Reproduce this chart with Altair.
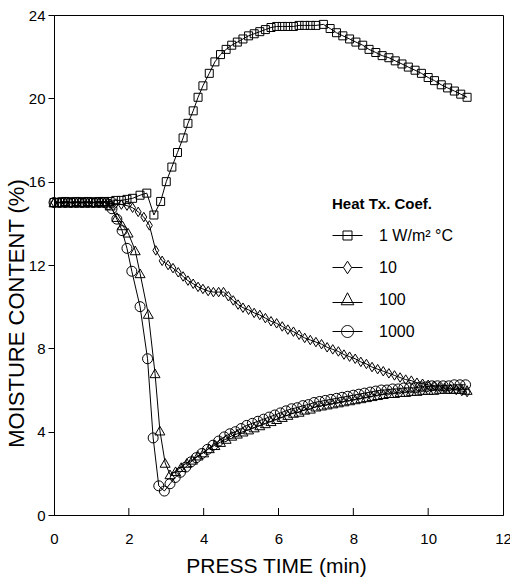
import altair as alt
import pandas as pd

series_names = ["1 W/m² °C", "10", "100", "1000"]

square = [(0, 15.0), (0.15, 15.0), (0.3, 15.05), (0.45, 15.0), (0.6, 15.05), (0.75, 15.0), (0.9, 15.05),
          (1.05, 15.0), (1.2, 15.05), (1.35, 15.05), (1.5, 15.05), (1.65, 15.1), (1.8, 15.1), (1.95, 15.15),
          (2.1, 15.2), (2.3, 15.35), (2.48, 15.45), (2.67, 14.4), (2.85, 15.05), (3.0, 16.0), (3.15, 16.7),
          (3.3, 17.4), (3.45, 18.1), (3.58, 18.8), (3.72, 19.4), (3.85, 20.05), (3.98, 20.6), (4.15, 21.2),
          (4.3, 21.75), (4.45, 22.1), (4.6, 22.35), (4.75, 22.55), (4.9, 22.7), (5.05, 22.85), (5.2, 23.0),
          (5.35, 23.1), (5.5, 23.2), (5.65, 23.3), (5.8, 23.4), (5.95, 23.45), (6.1, 23.45), (6.25, 23.45),
          (6.4, 23.45), (6.55, 23.5), (6.7, 23.5), (6.85, 23.5), (7.0, 23.5), (7.2, 23.55), (7.38, 23.35),
          (7.55, 23.15), (7.72, 23.0), (7.9, 22.85), (8.07, 22.7), (8.25, 22.55), (8.42, 22.35), (8.6, 22.2),
          (8.77, 22.05), (8.95, 21.95), (9.12, 21.8), (9.3, 21.65), (9.47, 21.5), (9.65, 21.35), (9.82, 21.2),
          (10.0, 21.0), (10.17, 20.85), (10.35, 20.65), (10.52, 20.5), (10.7, 20.35), (10.87, 20.2), (11.04, 20.05)]

diamond = [(0, 15.0), (0.15, 15.0), (0.3, 15.0), (0.45, 15.0), (0.6, 15.0), (0.75, 15.0), (0.9, 15.0),
           (1.05, 15.0), (1.2, 15.0), (1.35, 15.0), (1.5, 14.95), (1.65, 14.95), (1.8, 14.9), (1.95, 14.85),
           (2.1, 14.75), (2.25, 14.55), (2.4, 14.3), (2.55, 13.9), (2.72, 12.7), (2.89, 12.2), (3.05, 12.0),
           (3.18, 11.85), (3.32, 11.65), (3.45, 11.45), (3.58, 11.25), (3.72, 11.1), (3.85, 10.95), (3.98, 10.85),
           (4.12, 10.75), (4.26, 10.7), (4.4, 10.7), (4.53, 10.7), (4.66, 10.5), (4.79, 10.3), (4.92, 10.1),
           (5.05, 9.95), (5.2, 9.85), (5.35, 9.7), (5.5, 9.6), (5.65, 9.45), (5.8, 9.3), (5.95, 9.2), (6.1, 9.05),
           (6.25, 8.9), (6.4, 8.8), (6.55, 8.65), (6.7, 8.5), (6.85, 8.4), (7.0, 8.3), (7.15, 8.2), (7.3, 8.05),
           (7.45, 7.95), (7.6, 7.85), (7.75, 7.7), (7.9, 7.6), (8.05, 7.5), (8.2, 7.35), (8.35, 7.25), (8.5, 7.1),
           (8.65, 7.0), (8.8, 6.9), (8.95, 6.8), (9.1, 6.7), (9.25, 6.6), (9.4, 6.5), (9.55, 6.45), (9.7, 6.35),
           (9.85, 6.3), (10.0, 6.25), (10.15, 6.2), (10.3, 6.15), (10.45, 6.1), (10.6, 6.05), (10.75, 6.0),
           (10.9, 5.95), (11.04, 5.9)]

triangle = [(0, 15.0), (0.15, 15.0), (0.3, 15.0), (0.45, 15.0), (0.6, 15.0), (0.75, 15.0), (0.9, 15.0),
            (1.05, 15.0), (1.2, 15.0), (1.35, 15.0), (1.5, 14.85), (1.68, 14.3), (1.83, 13.9), (1.98, 13.55),
            (2.17, 12.7), (2.3, 11.6), (2.52, 9.65), (2.7, 6.8), (2.83, 4.05), (2.97, 2.5), (3.1, 1.95),
            (3.25, 2.1), (3.4, 2.3), (3.55, 2.5), (3.7, 2.65), (3.85, 2.85), (4.0, 3.0), (4.15, 3.2), (4.3, 3.35),
            (4.45, 3.5), (4.6, 3.65), (4.75, 3.8), (4.9, 3.9), (5.05, 4.0), (5.2, 4.1), (5.35, 4.2), (5.5, 4.3),
            (5.65, 4.4), (5.8, 4.5), (5.95, 4.6), (6.1, 4.7), (6.25, 4.8), (6.4, 4.9), (6.55, 4.95), (6.7, 5.05),
            (6.85, 5.1), (7.0, 5.2), (7.15, 5.25), (7.3, 5.3), (7.45, 5.35), (7.6, 5.4), (7.75, 5.45), (7.9, 5.5),
            (8.05, 5.55), (8.2, 5.6), (8.35, 5.65), (8.5, 5.7), (8.65, 5.75), (8.8, 5.8), (8.95, 5.85), (9.1, 5.85),
            (9.25, 5.9), (9.4, 5.9), (9.55, 5.95), (9.7, 5.95), (9.85, 6.0), (10.0, 6.0), (10.15, 6.0),
            (10.3, 6.05), (10.45, 6.05), (10.6, 6.05), (10.75, 6.05), (10.9, 6.05), (11.04, 6.0)]

circle = [(0, 15.0), (0.15, 15.0), (0.3, 15.0), (0.45, 15.0), (0.6, 15.0), (0.75, 15.0), (0.9, 15.0),
          (1.05, 15.0), (1.2, 15.0), (1.35, 15.0), (1.45, 14.9), (1.55, 14.7), (1.68, 14.2), (1.82, 13.65),
          (1.95, 12.8), (2.08, 11.7), (2.3, 10.0), (2.5, 7.5), (2.65, 3.7), (2.8, 1.4), (2.95, 1.15), (3.1, 1.5),
          (3.24, 1.8), (3.38, 2.05), (3.52, 2.3), (3.66, 2.55), (3.8, 2.75), (3.95, 2.95), (4.1, 3.15),
          (4.25, 3.35), (4.4, 3.55), (4.55, 3.75), (4.7, 3.9), (4.85, 4.0), (5.0, 4.15), (5.15, 4.3), (5.3, 4.4),
          (5.45, 4.5), (5.6, 4.6), (5.75, 4.7), (5.9, 4.8), (6.05, 4.9), (6.2, 5.0), (6.35, 5.1), (6.5, 5.15),
          (6.65, 5.25), (6.8, 5.3), (6.95, 5.4), (7.1, 5.45), (7.25, 5.5), (7.4, 5.55), (7.55, 5.6), (7.7, 5.65),
          (7.85, 5.7), (8.0, 5.75), (8.15, 5.8), (8.3, 5.85), (8.45, 5.9), (8.6, 5.95), (8.75, 6.0), (8.9, 6.0),
          (9.05, 6.05), (9.2, 6.05), (9.35, 6.1), (9.5, 6.1), (9.65, 6.1), (9.8, 6.15), (9.95, 6.15), (10.1, 6.2),
          (10.25, 6.2), (10.4, 6.2), (10.55, 6.2), (10.7, 6.25), (10.85, 6.25), (11.0, 6.25)]

x_ticks = [0, 2, 4, 6, 8, 10, 12]
x_inner_ticks = [2, 4, 6, 8, 10]
y_ticks = [0, 4, 8, 12, 16, 20, 24]

# marker styles
plot_shapes = ["square", "M0,-1L0.62,0L0,1L-0.62,0Z", "triangle-up", "circle"]
plot_sizes = [64, 90, 100, 100]
legend_paths = [
    "M0,-0.8L0,-0.8M0,0.8L0,0.8M-1,0H1M-0.3,-0.3H0.3V0.3H-0.3Z",
    "M0,-0.8L0,-0.8M0,0.8L0,0.8M-1,0H-0.27M0.27,0H1M0,-0.42L0.27,0L0,0.42L-0.27,0Z",
    "M0,-0.8L0,-0.8M0,0.8L0,0.8M-1,0.2H1M0,-0.45L0.42,0.35L-0.42,0.35Z",
    "M0,-0.8L0,-0.8M0,0.8L0,0.8M-1,0H1M0.4,0A0.4,0.4 0 1,1 -0.4,0A0.4,0.4 0 1,1 0.4,0Z",
]

rows = []
for name, pts in zip(series_names, [square, diamond, triangle, circle]):
    for i, (t, m) in enumerate(pts):
        rows.append({"series": name, "t": t, "mc": m, "idx": i})
df = pd.DataFrame(rows)

W, H = 449, 500
FONT = "Liberation Sans"

xscale = alt.Scale(domain=[0, 12], nice=False)
yscale = alt.Scale(domain=[0, 24], nice=False)

xaxis = alt.Axis(
    values=x_ticks, title="PRESS TIME (min)", ticks=False, grid=False, format="d",
    labelFontSize=15, labelPadding=16, labelFont=FONT, labelColor="black", labelFlush=False,
    titleFontSize=21, titleFont=FONT, titleFontWeight="normal", titleColor="black",
    titleX=222, titleY=57, titleBaseline="alphabetic", titleAlign="center",
    domainColor="black")
xenc = alt.X("t:Q", scale=xscale, axis=xaxis)
yenc = alt.Y("mc:Q", scale=yscale, axis=alt.Axis(
    values=y_ticks, title="MOISTURE CONTENT (%)", grid=False, format="d",
    tickSize=6, tickColor="black", labelFontSize=15, labelPadding=3, labelFont=FONT, labelColor="black",
    titleFontSize=22, titleFont=FONT, titleFontWeight="normal", titleColor="black",
    titleX=-31, titleY=298, titleAngle=270, titleBaseline="alphabetic", titleAlign="center",
    domainColor="black"))

lines = alt.Chart(df).mark_line(color="black", strokeWidth=1).encode(
    x=xenc, y=yenc, detail="series:N", order="idx:Q")

layers = [lines]
for name, shp, sz in zip(series_names, plot_shapes, plot_sizes):
    layers.append(
        alt.Chart(df).transform_filter(alt.datum.series == name).mark_point(
            filled=False, color="black", strokeWidth=1, opacity=1
        ).encode(x=xenc, y=yenc, shape=alt.value(shp), size=alt.value(sz))
    )

tick_df = pd.DataFrame({"t": x_inner_ticks})
ticks = alt.Chart(tick_df).mark_rule(color="black", strokeWidth=1).encode(
    x=xenc, y=alt.value(H), y2=alt.value(H - 7))
layers.append(ticks)

legend_df = pd.DataFrame({"lbl": series_names})
legend_layer = alt.Chart(legend_df).transform_filter("false").mark_point(
    filled=False, color="black", strokeWidth=1, opacity=1
).encode(shape=alt.Shape("lbl:N", scale=alt.Scale(domain=series_names, range=legend_paths),
                         legend=alt.Legend(
                             title="Heat Tx. Coef.", orient="none", legendX=278, legendY=182,
                             symbolSize=900, symbolStrokeWidth=1, symbolStrokeColor="black",
                             labelFontSize=16, labelFont=FONT, labelColor="black", labelOffset=16,
                             titleFontSize=15, titleFont=FONT, titleFontWeight="bold", titleColor="black",
                             titlePadding=8, rowPadding=2, symbolOffset=0)))
layers.append(legend_layer)

chart = alt.layer(*layers).properties(
    width=W, height=H,
    autosize=alt.AutoSizeParams(type="none"),
    padding={"left": 54, "top": 15, "right": 7, "bottom": 62},
    background="white",
).configure_view(stroke="black", strokeWidth=1)

chart.save("out.html", embed_options={"renderer": "svg", "actions": False})
